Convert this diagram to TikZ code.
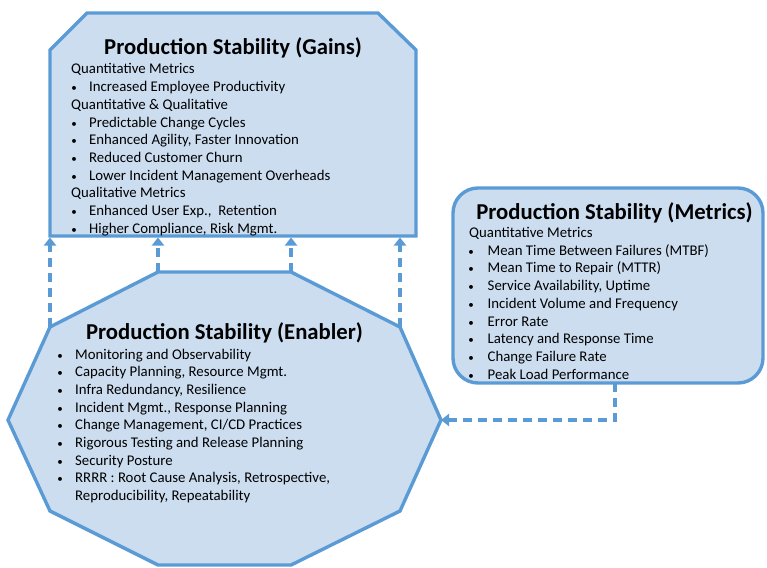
\documentclass[tikz,border=0pt]{standalone}
\usepackage{fontspec}
\setmainfont{Carlito}
\usetikzlibrary{arrows.meta}
\definecolor{edgeblue}{HTML}{5B9BD5}
\definecolor{fillblue}{HTML}{CCDDF0}
\newcommand{\bitem}[3]{\hspace*{#1}\makebox[0pt]{\fontsize{11}{11}\selectfont\textbullet}\hspace*{#2}#3}
\begin{document}
\begin{tikzpicture}[x=1pt,y=-1pt,
  shapebox/.style={draw=edgeblue, fill=fillblue, line width=3.4pt, line join=miter},
  link/.style={draw=edgeblue, line width=3.4pt, dash pattern=on 9pt off 6pt, -{Triangle[width=12pt,length=8pt]}},
  ttl/.style={font=\fontsize{22.7}{27}\selectfont\bfseries, inner sep=0pt, anchor=base},
  body/.style={font=\fontsize{14.8}{17.7}\selectfont, inner sep=0pt, anchor=base west}]
\useasboundingbox (0,0) rectangle (767,567);

% Gains shape
\draw[shapebox] (50,50) -- (87,13) -- (378,13) -- (416,50) -- (416,236) -- (50,236) -- cycle;
\coordinate (g1) at (50,237.5);
\coordinate (g2) at (158,237.5);
\coordinate (g3) at (291,237.5);
\coordinate (g4) at (400,237.5);

% Enabler decagon vertices
\coordinate (e1) at (158,272);
\coordinate (e2) at (291,272);
\coordinate (e3) at (400,327);
\coordinate (e4) at (441,420);
\coordinate (e5) at (400,511);
\coordinate (e6) at (291,565);
\coordinate (e7) at (158,565);
\coordinate (e8) at (50,511);
\coordinate (e9) at (8,420);
\coordinate (e10) at (50,327);

% Metrics box
\draw[shapebox, rounded corners=25pt] (453,188) rectangle (763,383);
\coordinate (mout) at (615,383);
\coordinate (mbend) at (615,420);

% connectors
\draw[link] (e10) -- (g1);
\draw[link] (e1) -- (g2);
\draw[link] (e2) -- (g3);
\draw[link] (e3) -- (g4);
\draw[link] (mout) -- (mbend) -- (e4);

\draw[shapebox] (e1) -- (e2) -- (e3) -- (e4) -- (e5) -- (e6) -- (e7) -- (e8) -- (e9) -- (e10) -- cycle;

% Gains text
\node[ttl] (gt) at (233,55) {Production Stability (Gains)};
\node[body] (gb) at (71,74) {\begin{tabular}[t]{@{}l@{}}
Quantitative Metrics\\
\bitem{3pt}{15pt}{Increased Employee Productivity}\\
Quantitative \& Qualitative\\
\bitem{3pt}{15pt}{Predictable Change Cycles}\\
\bitem{3pt}{15pt}{Enhanced Agility, Faster Innovation}\\
\bitem{3pt}{15pt}{Reduced Customer Churn}\\
\bitem{3pt}{15pt}{Lower Incident Management Overheads}\\
Qualitative Metrics\\
\bitem{3pt}{15pt}{Enhanced User Exp.,\ \ Retention}\\
\bitem{3pt}{15pt}{Higher Compliance, Risk Mgmt.}
\end{tabular}};

% Enabler text
\node[ttl] (et) at (224.5,339) {Production Stability (Enabler)};
\node[body] (eb) at (60,359) {\begin{tabular}[t]{@{}l@{}}
\bitem{0pt}{15pt}{Monitoring and Observability}\\
\bitem{0pt}{15pt}{Capacity Planning, Resource Mgmt.}\\
\bitem{0pt}{15pt}{Infra Redundancy, Resilience}\\
\bitem{0pt}{15pt}{Incident Mgmt., Response Planning}\\
\bitem{0pt}{15pt}{Change Management, CI/CD Practices}\\
\bitem{0pt}{15pt}{Rigorous Testing and Release Planning}\\
\bitem{0pt}{15pt}{Security Posture}\\
\bitem{0pt}{15pt}{RRRR : Root Cause Analysis, Retrospective,}\\
\hspace*{15pt}Reproducibility, Repeatability
\end{tabular}};

% Metrics text
\node[ttl] (mt) at (614.5,219) {Production Stability (Metrics)};
\node[body] (mb) at (469,237.5) {\begin{tabular}[t]{@{}l@{}}
Quantitative Metrics\\
\bitem{2pt}{16.5pt}{Mean Time Between Failures (MTBF)}\\
\bitem{2pt}{16.5pt}{Mean Time to Repair (MTTR)}\\
\bitem{2pt}{16.5pt}{Service Availability, Uptime}\\
\bitem{2pt}{16.5pt}{Incident Volume and Frequency}\\
\bitem{2pt}{16.5pt}{Error Rate}\\
\bitem{2pt}{16.5pt}{Latency and Response Time}\\
\bitem{2pt}{16.5pt}{Change Failure Rate}\\
\bitem{2pt}{16.5pt}{Peak Load Performance}
\end{tabular}};
\end{tikzpicture}
\end{document}
